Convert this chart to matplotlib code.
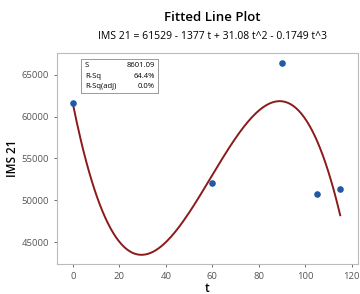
import numpy as np
import matplotlib
matplotlib.use("Agg")
import matplotlib.pyplot as plt

plt.rcParams['font.family'] = ['Open Sans', 'DejaVu Sans']

# observed data
t_obs = [0, 60, 90, 105, 115]
ims_obs = [61600, 52050, 66450, 50750, 51300]

# fitted cubic coefficients (from title)
coef = [61529, -1377, 31.08, -0.1749]
xticks = [0, 20, 40, 60, 80, 100, 120]
yticks = [45000, 50000, 55000, 60000, 65000]

t_fit = np.linspace(0, 115, 200)
ims_fit = coef[0] + coef[1] * t_fit + coef[2] * t_fit**2 + coef[3] * t_fit**3

fig = plt.figure(figsize=(3.6, 2.94), dpi=100)
ax = fig.add_axes([0.158, 0.102, 0.836, 0.718])

ax.plot(t_fit, ims_fit, color='#8b1a1a', lw=1.4)
ax.scatter(t_obs, ims_obs, s=14, color='#1f5aa6', zorder=3)

ax.set_xlim(-6.9, 122.6)
ax.set_ylim(42365, 67635)
ax.set_xticks(xticks)
ax.set_yticks(yticks)
ax.tick_params(labelsize=6.8, colors='#555555', length=2, width=0.6)
for s in ax.spines.values():
    s.set_color('#bbbbbb')
    s.set_linewidth(0.8)
ax.set_xlabel('t', fontsize=8.5, fontweight='semibold', labelpad=1)
ax.set_ylabel('IMS 21', fontsize=8.5, fontweight='semibold', labelpad=2)

fig.text(0.59, 0.94, 'Fitted Line Plot', ha='center', va='center', fontsize=9.5, fontweight='semibold')
fig.text(0.59, 0.875, 'IMS 21 = 61529 - 1377 t + 31.08 t^2 - 0.1749 t^3', ha='center', va='center', fontsize=7.5)

# stats box
box = ax.inset_axes([0.08, 0.81, 0.256, 0.16])
box.set_xticks([])
box.set_yticks([])
for s in box.spines.values():
    s.set_color('#999999')
    s.set_linewidth(0.7)
labels = ['S', 'R-Sq', 'R-Sq(adj)']
vals = ['8601.09', '64.4%', '0.0%']
for i, (l, v) in enumerate(zip(labels, vals)):
    y = 0.82 - i * 0.32
    box.text(0.05, y, l, fontsize=5.5, va='center', transform=box.transAxes)
    box.text(0.96, y, v, fontsize=5.5, va='center', ha='right', transform=box.transAxes)

fig.savefig('out.png', dpi=100)
